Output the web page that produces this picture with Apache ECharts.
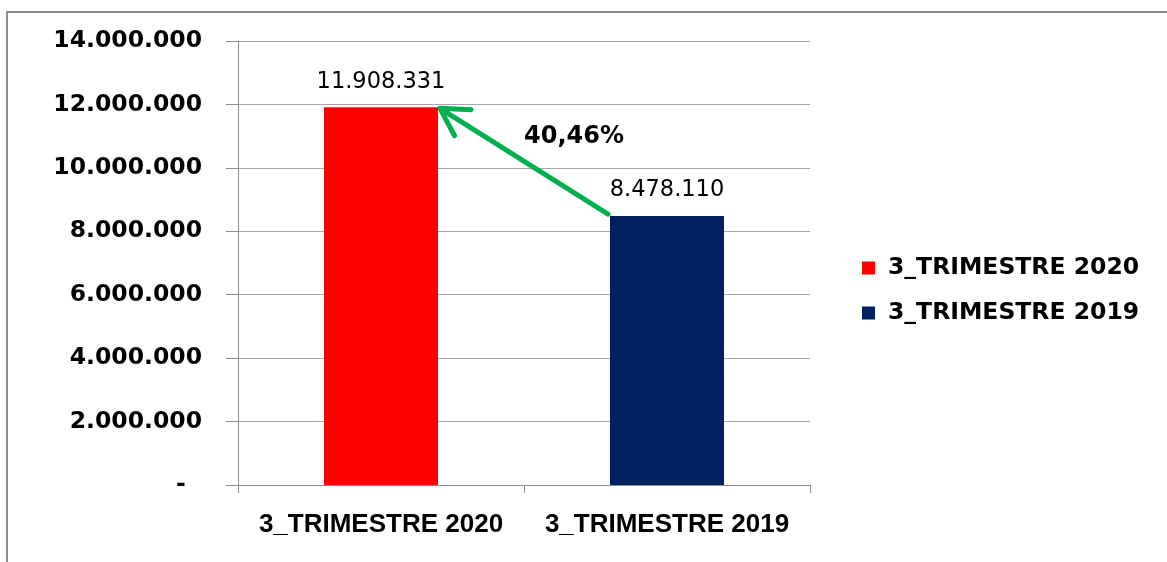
<!DOCTYPE html>
<html>
<head>
<meta charset="utf-8">
<script src="https://cdn.jsdelivr.net/npm/echarts@6/dist/echarts.min.js"></script>
<style>
  html, body { margin: 0; padding: 0; background: #fff; }
  #main { width: 1167px; height: 562px; }
</style>
</head>
<body>
<div id="main"></div>
<script>
// data
var categories = ['3_TRIMESTRE 2020', '3_TRIMESTRE 2019'];
var values = [11908331, 8478110];
var colors = ['#FF0000', '#002060'];
var changeLabel = '40,46%';
var yMin = 0, yMax = 14000000, yStep = 2000000;

// 1.234.567 style, zero as a dash (accounting format)
function fmt(v) {
    if (v === 0) return '-  ';
    return String(v).replace(/\B(?=(\d{3})+(?!\d))/g, '.');
}

var barW = 114;
var chart = echarts.init(document.getElementById('main'));

var series = categories.map(function (name, i) {
    return {
        name: name,
        type: 'bar',
        barWidth: barW,
        barGap: '-100%',
        itemStyle: { color: colors[i] },
        label: {
            show: true,
            position: 'top',
            distance: 14,
            formatter: function (p) { return fmt(p.value); },
            color: '#000',
            fontFamily: 'DejaVu Sans',
            fontSize: 22.5
        },
        data: categories.map(function (c, j) { return j === i ? values[i] : '-'; })
    };
});

var option = {
    animation: false,
    grid: { left: 238, right: 357, top: 41, bottom: 77 },
    legend: {
        orient: 'vertical',
        left: 857,
        top: 251,
        itemWidth: 13,
        itemHeight: 13,
        itemGap: 21,
        icon: 'rect',
        textStyle: { fontFamily: 'DejaVu Sans', fontWeight: 'bold', fontSize: 23.5, color: '#000', padding: [0, 0, 0, 8] },
        data: categories
    },
    xAxis: {
        type: 'category',
        data: categories,
        axisLine: { lineStyle: { color: '#8c8c8c', width: 1 } },
        axisTick: { show: true, length: 8, lineStyle: { color: '#8c8c8c' } },
        axisLabel: {
            interval: 0,
            margin: 27,
            color: '#000',
            fontFamily: 'Liberation Sans',
            fontWeight: 'bold',
            fontSize: 26
        }
    },
    yAxis: {
        type: 'value',
        min: yMin,
        max: yMax,
        interval: yStep,
        axisLine: { show: true, lineStyle: { color: '#8c8c8c' } },
        axisTick: { show: true, length: 12, lineStyle: { color: '#8c8c8c' } },
        splitLine: { lineStyle: { color: '#a6a6a6', width: 1 } },
        axisLabel: {
            margin: 36,
            formatter: fmt,
            color: '#000',
            fontFamily: 'DejaVu Sans',
            fontWeight: 'bold',
            fontSize: 23.5
        }
    },
    series: series
};
chart.setOption(option);

// green arrow from top-left of 2019 bar to top-right of 2020 bar
var p0 = chart.convertToPixel({ xAxisIndex: 0, yAxisIndex: 0 }, [1, values[1]]);
var p1 = chart.convertToPixel({ xAxisIndex: 0, yAxisIndex: 0 }, [0, values[0]]);
var sx = p0[0] - barW / 2 - 2, sy = p0[1] - 2;
var ex = p1[0] + barW / 2 + 2, ey = p1[1] + 1;
var ang = Math.atan2(sy - ey, sx - ex);
var headLen = 31, spread = 0.52;
var h1 = [ex + headLen * Math.cos(ang + spread), ey + headLen * Math.sin(ang + spread)];
var h2 = [ex + headLen * Math.cos(ang - spread), ey + headLen * Math.sin(ang - spread)];
var green = '#00B050';

chart.setOption({
    graphic: [
        {
            type: 'rect',
            shape: { x: 7, y: 12, width: 1200, height: 600 },
            style: { fill: 'none', stroke: '#8c8c8c', lineWidth: 2 },
            silent: true
        },
        {
            type: 'line',
            shape: { x1: sx, y1: sy, x2: ex, y2: ey },
            style: { stroke: green, lineWidth: 5, lineCap: 'round' }
        },
        {
            type: 'polyline',
            shape: { points: [h1, [ex, ey], h2] },
            style: { stroke: green, lineWidth: 5, lineCap: 'round', lineJoin: 'round', fill: 'none' }
        },
        {
            type: 'text',
            x: (sx + ex) / 2 + 50,
            y: (sy + ey) / 2 - 24,
            style: {
                text: changeLabel,
                fill: '#000',
                font: 'bold 24px "DejaVu Sans"',
                align: 'center',
                verticalAlign: 'middle'
            }
        }
    ]
});
</script>
</body>
</html>
